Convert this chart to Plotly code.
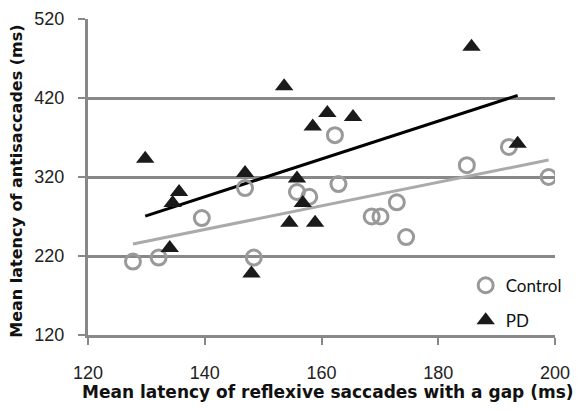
import numpy as np
import plotly.graph_objects as go

# Data
control_x = [127.7, 132.1, 139.5, 146.9, 148.4, 155.8, 157.9, 162.3, 162.9, 168.6, 170.1, 172.9, 174.5, 184.9, 192.1, 198.9]
control_y = [213, 218, 268, 306, 218, 301, 295, 373, 311, 270, 270, 288, 244, 335, 358, 320]
pd_x = [129.8, 134.0, 134.5, 135.6, 146.9, 148.0, 153.6, 154.5, 155.8, 156.8, 158.5, 158.9, 161.0, 165.4, 185.7, 193.6]
pd_y = [343, 230, 287, 301, 325, 198, 435, 262, 318, 287, 384, 262, 401, 396, 485, 362]
x_ticks = [120, 140, 160, 180, 200]
y_ticks = [120, 220, 320, 420, 520]
x_title = "Mean latency of reflexive saccades with a gap (ms)"
y_title = "Mean latency of antisaccades (ms)"

def trend(xs, ys):
    xs = np.array(xs); ys = np.array(ys)
    m, b = np.polyfit(xs, ys, 1)
    xx = np.array([xs.min(), xs.max()])
    return xx, m * xx + b

cx, cy = trend(control_x, control_y)
px, py = trend(pd_x, pd_y)

fig = go.Figure()
fig.add_trace(go.Scatter(x=cx, y=cy, mode="lines", line=dict(color="#aaaaaa", width=3),
                         showlegend=False, hoverinfo="skip"))
fig.add_trace(go.Scatter(x=px, y=py, mode="lines", line=dict(color="#000000", width=3),
                         showlegend=False, hoverinfo="skip"))
fig.add_trace(go.Scatter(x=control_x, y=control_y, mode="markers", name="Control",
                         legendgroup="c",
                         marker=dict(symbol="circle-open", size=15, color="#999999",
                                     line=dict(width=3, color="#999999"))))
fig.add_trace(go.Scatter(x=pd_x, y=pd_y, mode="markers", name="PD",
                         legendgroup="p",
                         marker=dict(symbol="triangle-up", size=16, color="#1a1a1a",
                                     line=dict(width=0))))

axis_font = dict(family="Liberation Sans, Arial", size=18, color="#222222")
title_font = dict(family="DejaVu Sans, Verdana", color="#111111")

fig.update_layout(
    width=579, height=411,
    margin=dict(l=88, r=19, t=19, b=76),
    plot_bgcolor="white", paper_bgcolor="white",
    showlegend=True,
    legend=dict(x=1.025, y=0.213, xanchor="right", yanchor="top",
                bgcolor="rgba(0,0,0,0)", traceorder="grouped", tracegroupgap=10,
                font=dict(family="Lato, Open Sans, sans-serif", size=17, color="#111111"),
                itemwidth=30),
    xaxis=dict(range=[120, 200], tickvals=x_ticks, ticktext=[str(v) for v in x_ticks],
               showgrid=False, zeroline=False, showline=True, linecolor="#888888", linewidth=3,
               ticks="outside", ticklen=7, tickwidth=2, tickcolor="#888888",
               tickfont=axis_font, ticklabelstandoff=12, automargin=False),
    yaxis=dict(range=[120, 520], tickvals=y_ticks, ticktext=[str(v) for v in y_ticks],
               showgrid=True, gridcolor="#888888", gridwidth=3, zeroline=False,
               showline=True, linecolor="#888888", linewidth=3,
               ticks="outside", ticklen=7, tickwidth=2, tickcolor="#888888",
               tickfont=axis_font, ticklabelstandoff=10, automargin=False),
    annotations=[
        dict(text="<b>" + x_title + "</b>", xref="paper", yref="paper",
             x=0.513, y=-0.18, xanchor="center", yanchor="middle", showarrow=False,
             font=dict(size=17, **title_font)),
        dict(text="<b>" + y_title + "</b>", xref="paper", yref="paper",
             x=-0.155, y=0.487, xanchor="center", yanchor="middle", showarrow=False,
             textangle=-90, font=dict(size=16, **title_font)),
    ],
)

fig.write_html("out.html", config={"displayModeBar": False},
               post_script="document.body.style.margin='0px';")
